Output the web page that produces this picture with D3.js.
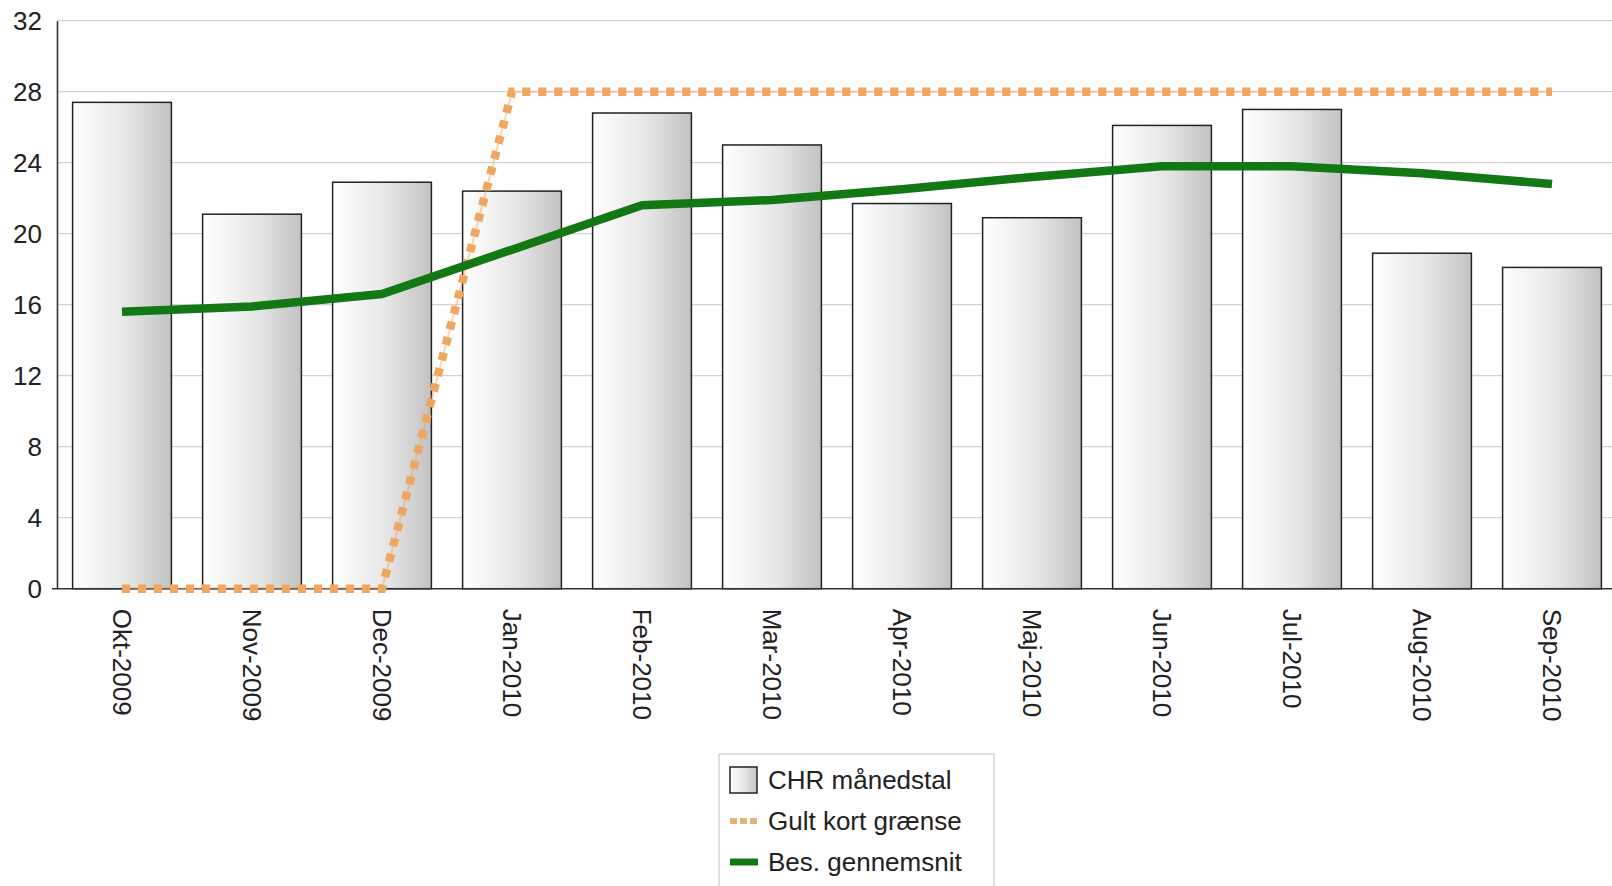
<!DOCTYPE html>
<html>
<head>
<meta charset="utf-8">
<script src="https://cdn.jsdelivr.net/npm/d3@7"></script>
<style>
    body { margin: 0; background: #fff; }
    text { font-family: "Liberation Sans", Arial, sans-serif; fill: #222; }
</style>
</head>
<body>
<div id="container"></div>
<script>
// chart data
const months = ['Okt-2009', 'Nov-2009', 'Dec-2009', 'Jan-2010', 'Feb-2010', 'Mar-2010',
    'Apr-2010', 'Maj-2010', 'Jun-2010', 'Jul-2010', 'Aug-2010', 'Sep-2010']
const chrValues = [27.4, 21.1, 22.9, 22.4, 26.8, 25.0, 21.7, 20.9, 26.1, 27.0, 18.9, 18.1]
const gultKort = [0, 0, 0, 28, 28, 28, 28, 28, 28, 28, 28, 28]
const besSnit = [15.6, 15.9, 16.6, 19.1, 21.6, 21.9, 22.5, 23.2, 23.8, 23.8, 23.4, 22.8]
const yTicks = [0, 4, 8, 12, 16, 20, 24, 28, 32]
const legendLabels = ['CHR månedstal', 'Gult kort grænse', 'Bes. gennemsnit']

const width = 1612
const height = 886
const margin = { top: 20.7, left: 57, bottom: 588.7 }
const orange = '#eea660'
const green = '#137813'

const svg = d3.select('#container').append('svg')
    .attr('width', width).attr('height', height)

// gradient for bars
const grad = svg.append('defs').append('linearGradient')
    .attr('id', 'barGrad')
    .attr('x1', '0%').attr('x2', '100%').attr('y1', '0%').attr('y2', '0%')
grad.append('stop').attr('offset', '0%').attr('stop-color', '#ffffff')
grad.append('stop').attr('offset', '55%').attr('stop-color', '#e6e6e6')
grad.append('stop').attr('offset', '100%').attr('stop-color', '#c2c2c2')

const xScale = d3.scaleBand()
    .domain(months)
    .range([margin.left, margin.left + 12 * 130])
    .paddingInner(0.24)
    .paddingOuter(0.12)

const yScale = d3.scaleLinear()
    .domain([0, 32])
    .range([margin.bottom, margin.top])

const cx = d => xScale(d) + xScale.bandwidth() / 2

// gridlines
svg.append('g').selectAll('line')
    .data(yTicks.filter(t => t > 0))
    .enter()
    .append('line')
    .attr('x1', margin.left).attr('x2', width)
    .attr('y1', d => yScale(d)).attr('y2', d => yScale(d))
    .attr('stroke', '#d2d2d2')
    .attr('stroke-width', 1.3)

// y axis
const yAxis = d3.axisLeft(yScale).tickValues(yTicks).tickSize(0).tickPadding(15)
const yG = svg.append('g').attr('id', 'y-axis')
    .attr('transform', `translate(${margin.left}, 0)`)
    .call(yAxis)
yG.select('.domain').attr('stroke', '#333').attr('stroke-width', 1.6)
yG.selectAll('text').style('font-size', '26px').attr('fill', '#222')

// bars
svg.append('g').selectAll('rect')
    .data(chrValues)
    .enter()
    .append('rect')
    .attr('x', (d, i) => xScale(months[i]))
    .attr('y', d => yScale(d))
    .attr('width', xScale.bandwidth())
    .attr('height', d => yScale(0) - yScale(d))
    .attr('fill', 'url(#barGrad)')
    .attr('stroke', '#222')
    .attr('stroke-width', 1.5)

// x axis
const xAxis = d3.axisBottom(xScale).tickSize(0).tickPadding(0)
const xG = svg.append('g').attr('id', 'x-axis')
    .attr('transform', `translate(0, ${margin.bottom})`)
    .call(xAxis)
xG.select('.domain').attr('d', `M${margin.left - 5},0H${width}`)
    .attr('stroke', '#333').attr('stroke-width', 1.6)
xG.selectAll('text')
    .style('font-size', '26px')
    .attr('fill', '#222')
    .style('text-anchor', 'start')
    .attr('dy', null)
    .attr('dominant-baseline', 'central')
    .attr('transform', 'translate(0, 20) rotate(90)')

// gult kort line
const lineGen = d3.line()
    .x((d, i) => cx(months[i]))
    .y(d => yScale(d))

svg.append('path')
    .datum(gultKort)
    .attr('d', lineGen)
    .attr('fill', 'none')
    .attr('stroke', orange)
    .attr('stroke-opacity', 0.45)
    .attr('stroke-width', 2)

svg.append('path')
    .datum(gultKort)
    .attr('d', lineGen)
    .attr('fill', 'none')
    .attr('stroke', orange)
    .attr('stroke-width', 8.5)
    .attr('stroke-dasharray', '8,8')

// gennemsnit line
svg.append('path')
    .datum(besSnit)
    .attr('d', lineGen)
    .attr('fill', 'none')
    .attr('stroke', green)
    .attr('stroke-width', 8.5)
    .attr('stroke-linejoin', 'round')

// legend
const legend = svg.append('g').attr('id', 'legend')
    .attr('transform', 'translate(719, 754)')

legend.append('rect')
    .attr('x', 0).attr('y', 0)
    .attr('width', 275).attr('height', 150)
    .attr('fill', '#fff')
    .attr('stroke', '#cfcfcf')
    .attr('stroke-width', 1.3)

const item = legend.selectAll('g.item')
    .data(legendLabels)
    .enter()
    .append('g')
    .attr('class', 'item')
    .attr('transform', (d, i) => `translate(0, ${26 + i * 41})`)

item.append('text')
    .attr('x', 49)
    .attr('y', 0)
    .attr('dominant-baseline', 'central')
    .style('font-size', '26px')
    .text(d => d)

item.filter((d, i) => i === 0).append('rect')
    .attr('x', 11).attr('y', -13)
    .attr('width', 27).attr('height', 26)
    .attr('fill', 'url(#barGrad)')
    .attr('stroke', '#222')
    .attr('stroke-width', 1.5)

item.filter((d, i) => i === 1).append('line')
    .attr('x1', 11).attr('x2', 39)
    .attr('stroke', '#e2b37c')
    .attr('stroke-width', 6)
    .attr('stroke-dasharray', '7,3')

item.filter((d, i) => i === 2).append('line')
    .attr('x1', 11).attr('x2', 39)
    .attr('stroke', green)
    .attr('stroke-width', 7)
</script>
</body>
</html>
